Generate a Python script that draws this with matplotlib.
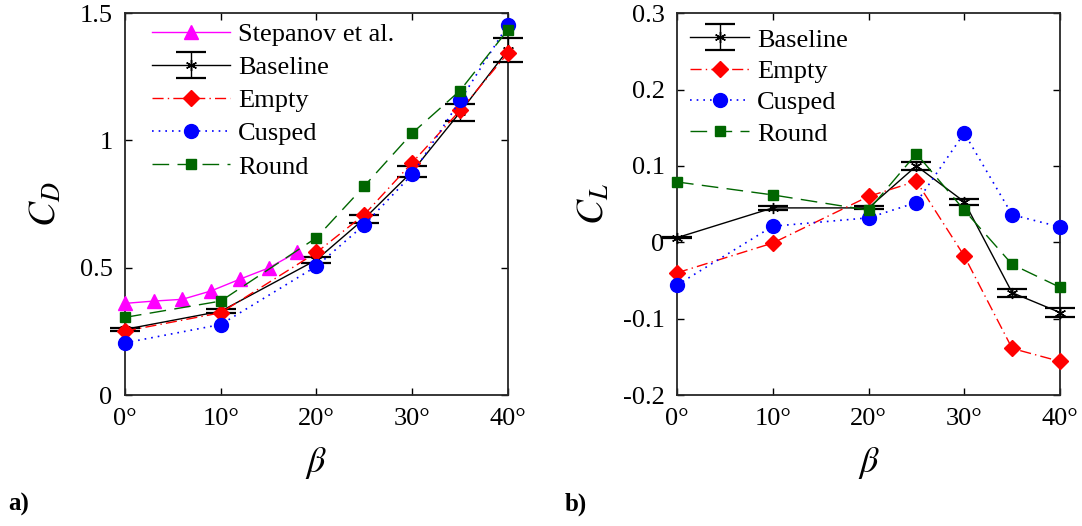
import matplotlib
matplotlib.use("Agg")
import matplotlib.pyplot as plt

plt.rcParams['font.family'] = ['Liberation Serif', 'DejaVu Serif']
plt.rcParams['mathtext.fontset'] = 'stix'

beta = [0, 10, 20, 25, 30, 35, 40]
beta_ticks = [0, 10, 20, 30, 40]
beta_tick_labels = ['0°', '10°', '20°', '30°', '40°']

# Drag coefficient
stepanov_beta = [0, 3, 6, 9, 12, 15, 18]
stepanov_cd = [0.36, 0.369, 0.376, 0.409, 0.455, 0.499, 0.562]
baseline_cd = [0.258, 0.329, 0.531, 0.693, 0.878, 1.111, 1.356]
baseline_cd_err = [0.006, 0.008, 0.012, 0.016, 0.022, 0.033, 0.047]
empty_cd = [0.251, 0.323, 0.56, 0.709, 0.913, 1.118, 1.344]
cusped_cd = [0.205, 0.277, 0.506, 0.669, 0.867, 1.157, 1.454]
round_cd = [0.305, 0.369, 0.618, 0.821, 1.029, 1.196, 1.435]

# Lift coefficient
baseline_cl = [0.006, 0.045, 0.045, 0.1, 0.053, -0.066, -0.092]
baseline_cl_err = [0.001, 0.003, 0.002, 0.005, 0.004, 0.005, 0.006]
empty_cl = [-0.040, -0.001, 0.060, 0.080, -0.018, -0.139, -0.156]
cusped_cl = [-0.056, 0.021, 0.032, 0.052, 0.143, 0.036, 0.020]
round_cl = [0.079, 0.062, 0.042, 0.116, 0.042, -0.029, -0.059]

MAG = '#FF00FF'
GREEN = '#006600'
ASTER = (6, 2, 0)
FS = 19

fig = plt.figure(figsize=(10.82, 5.26), dpi=100)
ax1 = fig.add_axes([0.1155, 0.249, 0.354, 0.726])
ax2 = fig.add_axes([0.6257, 0.249, 0.354, 0.726])


def noclip(artists):
    for a in artists:
        if isinstance(a, (list, tuple)):
            noclip(a)
        elif a is not None and hasattr(a, 'set_clip_on'):
            a.set_clip_on(False)


def draw_series(ax, base, base_err, emp, cus, rnd):
    handles = []
    eb = ax.errorbar(beta, base, yerr=base_err, color='k', lw=1, marker=ASTER, ms=8,
                     capsize=11, capthick=1.6, elinewidth=1, label='Baseline', zorder=3)
    noclip(eb.get_children())
    handles.append(eb)
    l, = ax.plot(beta, emp, color='red', lw=1, ls=(0, (8, 3, 1, 3)), marker='D', ms=8,
                 label='Empty', clip_on=False, zorder=4)
    handles.append(l)
    l, = ax.plot(beta, cus, color='blue', lw=1.2, ls=(0, (1, 3)), marker='o', ms=10,
                 label='Cusped', clip_on=False, zorder=4)
    handles.append(l)
    l, = ax.plot(beta, rnd, color=GREEN, lw=1, ls=(0, (12, 6)), marker='s', ms=7,
                 label='Round', clip_on=False, zorder=4)
    handles.append(l)
    return handles


# Left panel
st, = ax1.plot(stepanov_beta, stepanov_cd, color=MAG, lw=1, marker='^', ms=10,
               label='Stepanov et al.', clip_on=False, zorder=4)
h1 = draw_series(ax1, baseline_cd, baseline_cd_err, empty_cd, cusped_cd, round_cd)
ax1.set_xlim(0, 40)
ax1.set_ylim(0, 1.5)
ax1.set_yticks([0, 0.5, 1, 1.5])
ax1.set_yticklabels(['0', '0.5', '1', '1.5'])
ax1.set_ylabel(r'$C_D$', fontsize=27, labelpad=11)
ax1.legend([st] + h1, [h.get_label() for h in [st] + h1], loc='upper left',
           bbox_to_anchor=(0.0705, 0.976), frameon=False,
           fontsize=FS, handlelength=2.95, borderaxespad=0, labelspacing=0.37,
           handletextpad=0.3, borderpad=0)

# Right panel
h2 = draw_series(ax2, baseline_cl, baseline_cl_err, empty_cl, cusped_cl, round_cl)
ax2.set_xlim(0, 40)
ax2.set_ylim(-0.2, 0.3)
ax2.set_yticks([-0.2, -0.1, 0, 0.1, 0.2, 0.3])
ax2.set_yticklabels(['-0.2', '-0.1', '0', '0.1', '0.2', '0.3'])
ax2.set_ylabel(r'$C_L$', fontsize=27, labelpad=8)
ax2.legend(h2, [h.get_label() for h in h2], loc='upper left',
           bbox_to_anchor=(0.034, 0.961), frameon=False, fontsize=FS,
           handlelength=2.25, borderaxespad=0, labelspacing=0.3, handletextpad=0.3,
           borderpad=0)

for ax in (ax1, ax2):
    ax.set_xticks(beta_ticks)
    ax.set_xticklabels(beta_tick_labels)
    ax.set_xlabel(r'$\beta$', fontsize=26, labelpad=11)
    ax.tick_params(direction='in', length=5, width=1, labelsize=FS, top=True, right=True, pad=9)
    for s in ax.spines.values():
        s.set_linewidth(1.3)
        s.set_color('#262626')

fig.text(0.008, 0.03, 'a)', fontsize=18, fontweight='bold')
fig.text(0.522, 0.03, 'b)', fontsize=18, fontweight='bold')

fig.savefig('out.png', dpi=100)
